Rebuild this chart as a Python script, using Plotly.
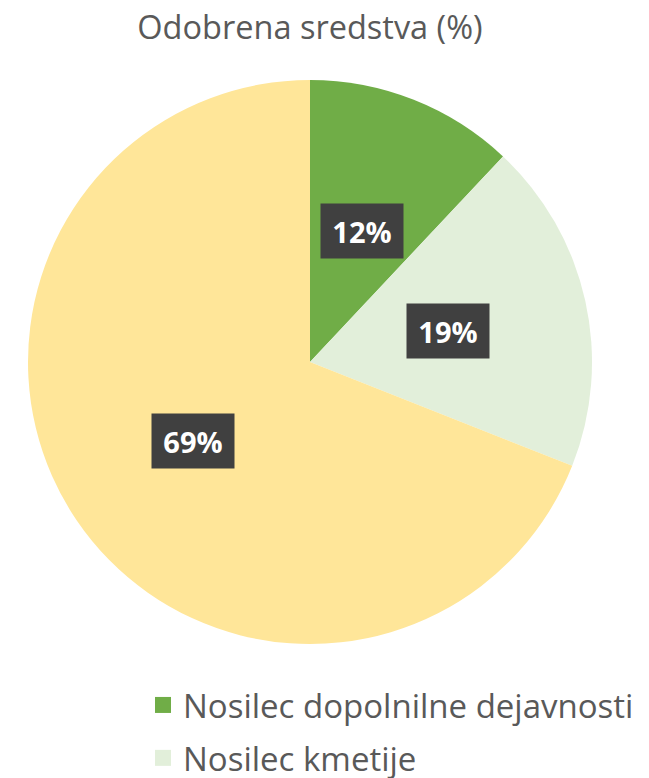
import numpy as np
import plotly.graph_objects as go

categories = ["Nosilec dopolnilne dejavnosti", "Nosilec kmetije", "Drugo"]
values = [12, 19, 69]
colors = ["#70AD47", "#E2EFDA", "#FFE699"]
legend_shown = ["Nosilec dopolnilne dejavnosti", "Nosilec kmetije"]
title_text = "Odobrena sredstva (%)"

W, H = 649, 778
cx, cy, R = 310, 362, 282

fig = go.Figure()
fig.add_trace(go.Pie(
    labels=categories, values=values, sort=False, direction="clockwise",
    rotation=0, marker=dict(colors=colors, line=dict(width=0)),
    textinfo="none", hoverinfo="label+percent", showlegend=False,
    domain=dict(x=[(cx - R) / W, (cx + R) / W], y=[1 - (cy + R) / H, 1 - (cy - R) / H]),
))

# legend entries (only the visible ones)
for i, name in enumerate(legend_shown):
    fig.add_trace(go.Scatter(
        x=[None], y=[None], mode="markers", name=name, legendgroup=name,
        marker=dict(symbol="square", size=20, color=colors[i]),
        hoverinfo="skip",
    ))

# data labels at half radius along the mid-angle of each slice
vals = np.array(values, dtype=float)
frac = vals / vals.sum()
mid = (np.cumsum(frac) - frac / 2) * 2 * np.pi
for v, a in zip(values, mid):
    px = cx + 0.5 * R * np.sin(a)
    py = cy - 0.5 * R * np.cos(a)
    fig.add_annotation(
        x=px / W, y=1 - py / H, xref="paper", yref="paper",
        text=f"<b>{v}%</b>", showarrow=False, width=66, height=38,
        font=dict(family="Open Sans", size=29, color="white"),
        bgcolor="#404040", borderpad=8, xanchor="center", yanchor="middle",
    )

fig.update_layout(
    width=W, height=H, margin=dict(l=0, r=0, t=0, b=0, autoexpand=False),
    paper_bgcolor="white", plot_bgcolor="white",
    title=dict(text=title_text, x=310 / W, xanchor="center", y=1 - 28 / H, yanchor="middle",
               font=dict(family="Open Sans", size=32.5, color="#595959")),
    xaxis=dict(visible=False), yaxis=dict(visible=False),
    legend=dict(x=143 / W, xanchor="left", y=1 - 677 / H, yanchor="top",
                font=dict(family="Open Sans", size=33, color="#595959"),
                tracegroupgap=7, bgcolor="rgba(0,0,0,0)"),
)

fig.write_html("out.html", config={"displayModeBar": False},
               post_script="document.body.style.margin='0';")
